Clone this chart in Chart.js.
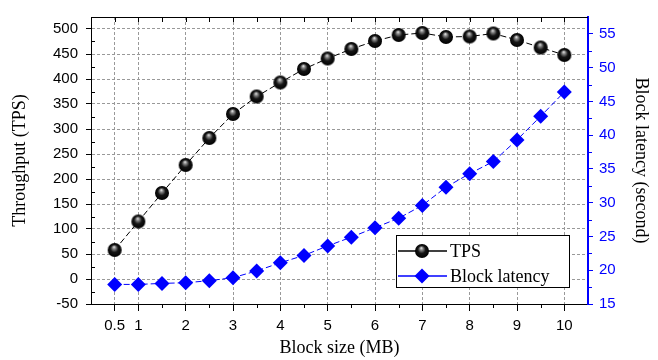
<!DOCTYPE html>
<html>
<head>
<meta charset="utf-8">
<script src="https://cdn.jsdelivr.net/npm/chart.js@4.4.1/dist/chart.umd.min.js"></script>
<style>
  html, body { margin: 0; padding: 0; background: #fff; }
</style>
</head>
<body>
<canvas id="chart" width="658" height="360"></canvas>
<script>
// block size in MB
const blockSizes = [0.5, 1, 1.5, 2, 2.5, 3, 3.5, 4, 4.5, 5, 5.5, 6, 6.5, 7, 7.5, 8, 8.5, 9, 9.5, 10];
// throughput (TPS), left axis
const tps = [58, 115, 172, 228, 282, 330, 365, 393, 420, 441, 460, 476, 488, 492, 484, 485, 491, 478, 463, 448];
// block latency (second), right axis
const latency = [17.9, 17.9, 18.05, 18.15, 18.45, 18.9, 19.9, 21.1, 22.2, 23.6, 24.9, 26.3, 27.7, 29.6, 32.3, 34.3, 36.1, 39.3, 42.8, 46.4];

const xTicks = [0.5, 1, 2, 3, 4, 5, 6, 7, 8, 9, 10];
const leftTicks = [-50, 0, 50, 100, 150, 200, 250, 300, 350, 400, 450, 500];
const rightTicks = [15, 20, 25, 30, 35, 40, 45, 50, 55];

const BLUE = '#0000ff';
const tickFont = { family: 'Liberation Sans, Arial, sans-serif', size: 15 };
const titleFont = { family: 'Liberation Serif, Times New Roman, serif', size: 18 };

// glossy black ball used as the TPS marker
function makeBall(r) {
  const c = document.createElement('canvas');
  const s = r * 2 + 2;
  c.width = c.height = s;
  const g = c.getContext('2d');
  const cx = s / 2, cy = s / 2;
  const grad = g.createRadialGradient(cx - r * 0.1, cy - r * 0.45, 0, cx, cy, r);
  grad.addColorStop(0, '#f2f2f2');
  grad.addColorStop(0.22, '#8a8a8a');
  grad.addColorStop(0.55, '#151515');
  grad.addColorStop(1, '#000');
  g.fillStyle = grad;
  g.beginPath();
  g.arc(cx, cy, r, 0, Math.PI * 2);
  g.fill();
  return c;
}
const ball = makeBall(7);

function diamond(ctx, x, y, r) {
  ctx.beginPath();
  ctx.moveTo(x, y - r);
  ctx.lineTo(x + r, y);
  ctx.lineTo(x, y + r);
  ctx.lineTo(x - r, y);
  ctx.closePath();
  ctx.fill();
}

// frame on top + minor ticks
const framePlugin = {
  id: 'frame',
  afterDatasetsDraw(chart) {
    const { ctx, chartArea: a, scales } = chart;
    const x = scales.x, yl = scales.y, yr = scales.y1;
    ctx.save();
    ctx.lineWidth = 1;
    ctx.strokeStyle = '#000';
    ctx.beginPath();
    ctx.moveTo(a.left, a.top + 0.5);
    ctx.lineTo(a.right, a.top + 0.5);
    // top ticks, inward, every half step
    for (let v = 0.5; v <= 10; v += 0.5) {
      const px = Math.round(x.getPixelForValue(v)) + 0.5;
      ctx.moveTo(px, a.top);
      ctx.lineTo(px, a.top + 5);
    }
    // bottom minor ticks
    for (let v = 1.5; v < 10; v += 1) {
      const px = Math.round(x.getPixelForValue(v)) + 0.5;
      ctx.moveTo(px, a.bottom);
      ctx.lineTo(px, a.bottom + 4);
    }
    // left minor ticks, inward
    for (let v = -25; v < 500; v += 50) {
      const py = Math.round(yl.getPixelForValue(v)) + 0.5;
      ctx.moveTo(a.left, py);
      ctx.lineTo(a.left + 4, py);
    }
    ctx.stroke();
    ctx.strokeStyle = BLUE;
    ctx.beginPath();
    for (let v = 17.5; v < 57; v += 5) {
      const py = Math.round(yr.getPixelForValue(v)) + 0.5;
      ctx.moveTo(a.right, py);
      ctx.lineTo(a.right + 4, py);
    }
    ctx.stroke();
    ctx.restore();
  }
};

// legend box inside the plot, bottom right
const legendPlugin = {
  id: 'boxLegend',
  afterDraw(chart) {
    const { ctx, chartArea: a } = chart;
    const w = 173, h = 52;
    const x0 = a.right - 19 - w, y0 = a.bottom - 17 - h;
    ctx.save();
    ctx.fillStyle = '#fff';
    ctx.fillRect(x0, y0, w, h);
    ctx.strokeStyle = '#000';
    ctx.lineWidth = 1;
    ctx.strokeRect(x0 + 0.5, y0 + 0.5, w, h);
    ctx.font = '18px "Liberation Serif", "Times New Roman", serif';
    ctx.textBaseline = 'middle';
    chart.data.datasets.forEach((ds, i) => {
      const yy = y0 + 16 + i * 25;
      ctx.strokeStyle = ds.borderColor;
      ctx.lineWidth = 1.5;
      ctx.beginPath();
      ctx.moveTo(x0 + 2, yy);
      ctx.lineTo(x0 + 51, yy);
      ctx.stroke();
      if (ds.pointStyle === 'rectRot') {
        ctx.fillStyle = ds.pointBackgroundColor;
        diamond(ctx, x0 + 26, yy, 7.5);
      } else {
        ctx.drawImage(ball, x0 + 26 - ball.width / 2, yy - ball.height / 2);
      }
      ctx.fillStyle = '#000';
      ctx.fillText(ds.label, x0 + 54, yy + 1);
    });
    ctx.restore();
  }
};

new Chart(document.getElementById('chart'), {
  type: 'line',
  data: {
    datasets: [
      {
        label: 'TPS',
        data: blockSizes.map((b, i) => ({ x: b, y: tps[i] })),
        yAxisID: 'y',
        borderColor: '#000',
        borderWidth: 1,
        borderDash: [6, 3],
        pointStyle: ball,
        pointRadius: 7,
        pointBackgroundColor: '#000',
        tension: 0
      },
      {
        label: 'Block latency',
        data: blockSizes.map((b, i) => ({ x: b, y: latency[i] })),
        yAxisID: 'y1',
        borderColor: BLUE,
        borderWidth: 1,
        borderDash: [6, 3],
        pointStyle: 'rectRot',
        pointRadius: 7.5,
        pointBackgroundColor: BLUE,
        pointBorderColor: BLUE,
        pointBorderWidth: 0,
        tension: 0
      }
    ]
  },
  options: {
    responsive: false,
    animation: false,
    devicePixelRatio: 1,
    layout: { padding: { top: 11, left: 0, right: 0, bottom: 0 } },
    plugins: { legend: { display: false }, tooltip: { enabled: false } },
    scales: {
      x: {
        type: 'linear',
        min: 0,
        max: 10.5,
        afterBuildTicks: s => { s.ticks = xTicks.map(v => ({ value: v })); },
        afterFit: s => { s.height = 56; },
        ticks: { font: tickFont, color: '#000', padding: 6, maxRotation: 0, autoSkip: false, callback: v => String(v) },
        grid: { color: '#999', tickColor: '#000', tickLength: 7, lineWidth: 1 },
        border: { color: '#000', width: 1, dash: [3, 2] },
        title: { display: true, text: 'Block size (MB)', font: titleFont, color: '#000', padding: { top: 0, bottom: 1 } }
      },
      y: {
        position: 'left',
        min: -50,
        max: 524,
        afterBuildTicks: s => { s.ticks = leftTicks.map(v => ({ value: v })); },
        afterFit: s => { s.width = 91; },
        ticks: { font: tickFont, color: '#000', padding: 8 },
        grid: { color: '#999', tickColor: '#000', tickLength: 5, lineWidth: 1 },
        border: { color: '#000', width: 1, dash: [3, 2] },
        title: { display: true, text: 'Throughput (TPS)', font: titleFont, color: '#000', padding: { top: 9, bottom: 0 } }
      },
      y1: {
        position: 'right',
        min: 15,
        max: 57.5,
        afterBuildTicks: s => { s.ticks = rightTicks.map(v => ({ value: v })); },
        afterFit: s => { s.width = 70; },
        ticks: { font: tickFont, color: BLUE, padding: 6 },
        grid: { drawOnChartArea: false, tickColor: BLUE, tickLength: 5 },
        border: { color: BLUE, width: 2 },
        title: { display: true, text: 'Block latency (second)', font: titleFont, color: '#000', padding: { top: 6, bottom: 0 } }
      }
    }
  },
  plugins: [framePlugin, legendPlugin]
});
</script>
</body>
</html>
